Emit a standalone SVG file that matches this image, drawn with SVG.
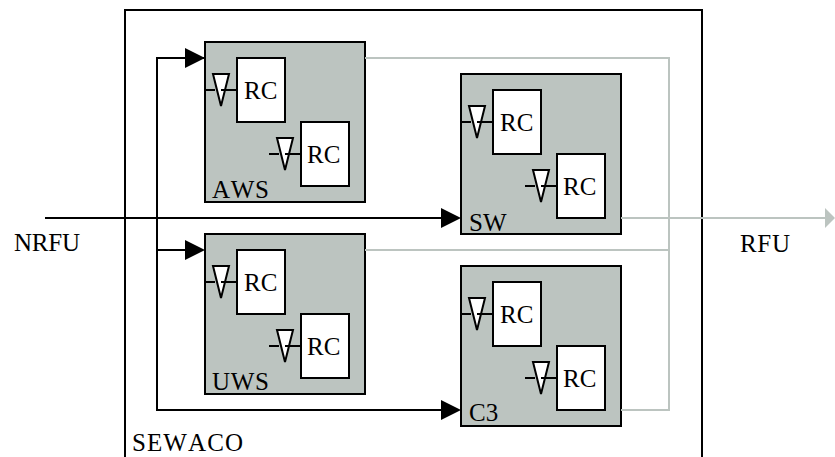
<svg xmlns="http://www.w3.org/2000/svg" width="835" height="457" viewBox="0 0 835 457">
<style>
text{font-family:"Liberation Serif","Times New Roman",serif;font-size:25px;fill:#000;font-kerning:none}
.box{fill:#bcc4c0;stroke:#000;stroke-width:2}
.rc{fill:#fff;stroke:#000;stroke-width:2}
.tri{fill:#fff;stroke:#000;stroke-width:2}
.lead{fill:none;stroke:#000;stroke-width:2}
.k{fill:none;stroke:#000;stroke-width:2}
.g{fill:none;stroke:#bcc4c0;stroke-width:2}
</style>
<defs>
<g id="unit">
<path class="lead" d="M0 48H10M64 112H74"/>
<path class="tri" d="M8 32H24L16 64Z"/>
<rect class="rc" x="32" y="16" width="48" height="64"/>
<path class="tri" d="M72 96H88L80 128Z"/>
<rect class="rc" x="96" y="80" width="48" height="64"/>
<path class="lead" d="M16 48H32M80 112H96"/>
<text x="39" y="57">RC</text>
<text x="102" y="121">RC</text>
</g>
</defs>
<g id="sewaco">
<rect x="125" y="10" width="577" height="460" fill="#fff" stroke="#000" stroke-width="2"/>
<text x="132" y="451" textLength="111">SEWACO</text>
</g>
<g id="aws"><rect class="box" x="205" y="42" width="160" height="160"/><use href="#unit" x="205" y="42"/><text x="212" y="198" textLength="57">AWS</text></g>
<g id="sw"><rect class="box" x="461" y="74" width="160" height="160"/><use href="#unit" x="461" y="74"/><text x="469" y="231">SW</text></g>
<g id="uws"><rect class="box" x="205" y="234" width="160" height="160"/><use href="#unit" x="205" y="234"/><text x="212" y="390" textLength="57">UWS</text></g>
<g id="c3"><rect class="box" x="461" y="266" width="160" height="160"/><use href="#unit" x="461" y="266"/><text x="469" y="421">C3</text></g>
<g id="connectors">
<path class="g" d="M365 58H669V410H621M365 250H669M621 218H826"/>
<path d="M825 208L835 218L825 228Z" fill="#bcc4c0"/>
<path class="k" d="M45 218H443M205 58H157V410H443M157 250H187"/>
<path d="M185 48L205 58L185 68ZM185 240L205 250L185 260ZM441 208L461 218L441 228ZM441 400L461 410L441 420Z" fill="#000"/>
</g>
<g id="labels">
<text x="14" y="251" textLength="66">NRFU</text>
<text x="740" y="252" textLength="50">RFU</text>
</g>
</svg>
